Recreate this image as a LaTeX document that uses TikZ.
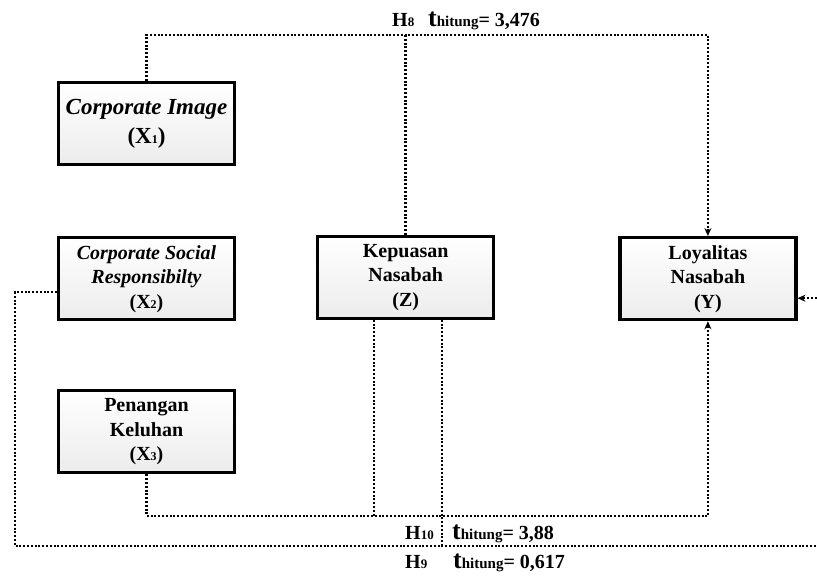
\documentclass[tikz,border=0pt]{standalone}
\usepackage{fontspec}
\setmainfont{Liberation Serif}
\usetikzlibrary{arrows.meta, positioning, calc}
\newcommand{\xsub}[1]{{\fontsize{12}{12}\selectfont #1}}
\newcommand{\hyplbl}[1]{H{\fontsize{13}{13}\selectfont #1}}
\newcommand{\thitung}[1]{{\fontsize{26}{26}\selectfont t}{\fontsize{15}{15}\selectfont hitung}= #1}

\begin{document}
\begin{tikzpicture}[
  x=1pt, y=1pt,
  varbox/.style={rectangle, draw=black, line width=3.2pt, top color=white, middle color=white, bottom color=gray!15, minimum width=176pt, minimum height=82pt, align=center, font=\fontsize{20}{24.5}\selectfont\bfseries},
  dotline/.style={line width=2.5pt, dash pattern=on 2pt off 1.8pt},
  dotarr/.style={dotline, -{Stealth[length=8pt, width=7pt]}},
  lbl/.style={inner sep=0pt, anchor=base west, font=\fontsize{20}{20}\selectfont\bfseries},
  node distance=70pt
]
\useasboundingbox (0,0) rectangle (817,578);

% Variables
\node[varbox, font=\fontsize{23}{29}\selectfont\bfseries] (x1) at (146.5,454.5) {\textit{Corporate Image}\\ (X\xsub{1})};
\node[varbox, below=70pt of x1] (x2) {\textit{Corporate Social}\\ \textit{Responsibilty}\\ (X\xsub{2})};
\node[varbox, below=68pt of x2] (x3) {Penangan\\ Keluhan\\ (X\xsub{3})};
\node[varbox, right=80pt of x2, yshift=1.5pt] (z) {Kepuasan\\ Nasabah\\ (Z)};
\node[varbox, right=123pt of z, yshift=-1.5pt] (y) {Loyalitas\\ Nasabah\\ (Y)};

% Line levels
\coordinate (topln) at (0,543);
\coordinate (h10ln) at (0,62);
\coordinate (h9ln) at (0,32);
\coordinate (lft) at (15,0);
\coordinate (rgt) at (830,0);

% H8
\draw[dotarr] (x1.north) |- (y.north |- topln) -- (y.north);
\draw[dotline] (z.north) -- (z.north |- topln);

% H10
\draw[dotarr] (x3.south) |- (y.south |- h10ln) -- (y.south);
\coordinate (zl) at ($(z.south)+(-31.5,0)$);
\draw[dotline] (zl) -- (zl |- h10ln);

% H9
\coordinate (zr) at ($(z.south)+(36.5,0)$);
\draw[dotline] (zr) -- (zr |- h9ln);
\draw[dotarr] ([yshift=-13.5pt]x2.west) -| (lft |- h9ln) -- (rgt |- h9ln) |- ([yshift=-19.5pt]y.east);

% Labels
\node[lbl] (h8) at (392,551) {\hyplbl{8}};
\node[lbl] (t8) at (428,551) {\thitung{3,476}};
\node[lbl] (h10) at (405,38) {\hyplbl{10}};
\node[lbl] (t10) at (452,38) {\thitung{3,88}};
\node[lbl] (h9) at (405,9) {\hyplbl{9}};
\node[lbl] (t9) at (453,9) {\thitung{0,617}};

\end{tikzpicture}
\end{document}
